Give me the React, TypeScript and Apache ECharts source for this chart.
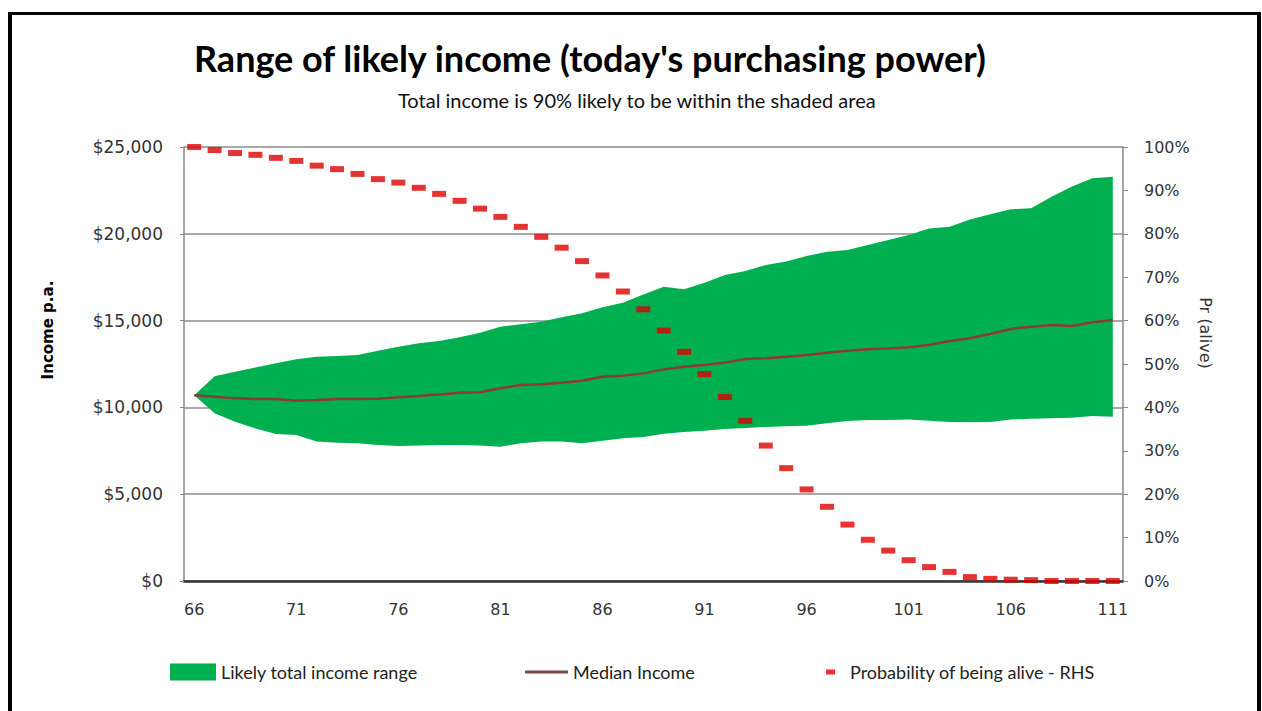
import React, { useEffect, useRef } from "react";
import * as echarts from "echarts";

const ages = [
  "66", "67", "68", "69", "70", "71", "72", "73", "74", "75", "76", "77", "78", "79", "80", "81",
  "82", "83", "84", "85", "86", "87", "88", "89", "90", "91", "92", "93", "94", "95", "96", "97",
  "98", "99", "100", "101", "102", "103", "104", "105", "106", "107", "108", "109", "110", "111",
];

const upperIncome = [
  10700, 11800, 12060, 12300, 12540, 12770, 12920, 12960, 13020, 13270, 13500, 13690, 13820, 14040, 14300, 14650,
  14790, 14940, 15190, 15420, 15770, 16030, 16500, 16950, 16800, 17180, 17630, 17860, 18200, 18400, 18720, 18970,
  19070, 19350, 19640, 19930, 20300, 20410, 20830, 21120, 21410, 21470, 22140, 22720, 23200, 23290,
];

const lowerIncome = [
  10700, 9660, 9180, 8790, 8470, 8410, 8030, 7970, 7930, 7830, 7780, 7800, 7830, 7830, 7800, 7740,
  7930, 8030, 8030, 7930, 8080, 8220, 8300, 8480, 8580, 8660, 8750, 8820, 8870, 8920, 8950, 9080,
  9220, 9270, 9270, 9310, 9230, 9160, 9140, 9160, 9310, 9350, 9370, 9410, 9500, 9460,
];

const medianIncome = [
  10700, 10620, 10520, 10480, 10480, 10390, 10430, 10480, 10480, 10500, 10580, 10660, 10750, 10850, 10870, 11100,
  11290, 11330, 11420, 11540, 11770, 11830, 11960, 12190, 12340, 12440, 12580, 12790, 12830, 12920, 13020, 13150,
  13270, 13350, 13400, 13460, 13590, 13820, 13980, 14230, 14520, 14650, 14750, 14690, 14900, 15030,
];

const probAlive = [
  100, 99.3, 98.6, 98.2, 97.5, 96.8, 95.7, 94.9, 93.8, 92.6, 91.8, 90.6, 89.2, 87.6, 85.8, 83.9,
  81.6, 79.3, 76.8, 73.7, 70.4, 66.7, 62.6, 57.7, 52.8, 47.7, 42.4, 36.9, 31.2, 26.0, 21.1, 17.1,
  13.0, 9.5, 7.0, 4.8, 3.2, 2.1, 0.9, 0.5, 0.3, 0.2, 0, 0, 0, 0,
];

const TITLE = "Range of likely income (today's purchasing power)";
const SUBTITLE = "Total income is 90% likely to be within the shaded area";
const LEFT_NAME = "Income p.a.";
const RIGHT_NAME = "Pr (alive)";
const S_RANGE = "Likely total income range";
const S_MEDIAN = "Median Income";
const S_ALIVE = "Probability of being alive - RHS";

export default function App() {
  const ref = useRef<HTMLDivElement>(null);

  useEffect(() => {
    if (!ref.current) return;
    const chart = echarts.init(ref.current, null, { renderer: "svg" });
    const bandWidth = upperIncome.map((u, i) => u - lowerIncome[i]);
    const axisFont = { fontFamily: "DejaVu Sans", fontSize: 16, color: "#333" };
    const legendText = { fontFamily: "Lato", fontSize: 18, color: "#222" };

    chart.setOption({
      animation: false,
      backgroundColor: "#fff",
      title: [
        {
          text: TITLE,
          left: 189,
          top: 35,
          textStyle: { fontFamily: "Lato", fontWeight: "bold", fontSize: 36, color: "#000" },
        },
        {
          text: SUBTITLE,
          left: 393,
          top: 85,
          textStyle: { fontFamily: "Lato", fontWeight: "normal", fontSize: 20, color: "#111" },
        },
      ],
      graphic: [
        {
          type: "text",
          x: 48,
          y: 330,
          rotation: Math.PI / 2,
          style: {
            text: LEFT_NAME,
            fontFamily: "DejaVu Sans",
            fontWeight: "bold",
            fontSize: 15,
            fill: "#000",
            align: "center",
            verticalAlign: "middle",
          },
        },
        {
          type: "text",
          x: 1205,
          y: 333,
          rotation: -Math.PI / 2,
          style: {
            text: RIGHT_NAME,
            fontFamily: "DejaVu Sans",
            fontSize: 16,
            fill: "#333",
            align: "center",
            verticalAlign: "middle",
          },
        },
      ],
      legend: [
        {
          data: [{ name: S_RANGE, icon: "rect" }],
          left: 170,
          top: 663,
          padding: 0,
          itemWidth: 46,
          itemHeight: 17,
          textStyle: legendText,
          selectedMode: false,
        },
        {
          data: [{ name: S_MEDIAN, icon: "rect" }],
          left: 525,
          top: 663,
          padding: 0,
          itemWidth: 43,
          itemHeight: 3,
          textStyle: legendText,
          selectedMode: false,
        },
        {
          data: [{ name: S_ALIVE, icon: "rect" }],
          left: 826,
          top: 663,
          padding: 0,
          itemWidth: 9,
          itemHeight: 5,
          textStyle: { ...legendText, padding: [0, 0, 0, 10] },
          selectedMode: false,
        },
      ],
      grid: { left: 184, right: 139, top: 147, bottom: 130 },
      xAxis: {
        type: "category",
        data: ages,
        boundaryGap: true,
        axisLine: { lineStyle: { color: "#333", width: 2.5 } },
        axisTick: { show: false },
        axisLabel: { ...axisFont, interval: 4, margin: 20 },
        splitLine: { show: false },
      },
      yAxis: [
        {
          type: "value",
          min: 0,
          max: 25000,
          interval: 5000,
          axisLine: { show: true, lineStyle: { color: "#888", width: 1.5 } },
          axisTick: { show: true, length: 4, lineStyle: { color: "#888" } },
          axisLabel: {
            ...axisFont,
            fontSize: 17,
            margin: 21,
            formatter: (v: number) => "$" + v.toLocaleString("en-US"),
          },
          splitLine: { show: true, lineStyle: { color: "#8c8c8c", width: 1.5 } },
        },
        {
          type: "value",
          min: 0,
          max: 100,
          interval: 10,
          position: "right",
          axisLine: { show: true, lineStyle: { color: "#888", width: 1.5 } },
          axisTick: { show: true, length: 5, lineStyle: { color: "#888" } },
          axisLabel: { ...axisFont, margin: 21, formatter: (v: number) => v + "%" },
          splitLine: { show: false },
        },
      ],
      series: [
        {
          name: "lower",
          type: "line",
          stack: "band",
          data: lowerIncome,
          showSymbol: false,
          symbol: "none",
          lineStyle: { width: 0, opacity: 0 },
          silent: true,
          z: 1,
        },
        {
          name: S_RANGE,
          type: "line",
          stack: "band",
          data: bandWidth,
          showSymbol: false,
          symbol: "none",
          lineStyle: { width: 0, opacity: 0 },
          itemStyle: { color: "#00b050" },
          areaStyle: { color: "#00b050", opacity: 1 },
          z: 2,
        },
        {
          name: S_MEDIAN,
          type: "line",
          data: medianIncome,
          showSymbol: false,
          symbol: "none",
          lineStyle: { color: "#8b3a36", width: 2.5 },
          itemStyle: { color: "#7a4a4a" },
          z: 3,
        },
        {
          name: S_ALIVE,
          type: "scatter",
          yAxisIndex: 1,
          data: probAlive,
          symbol: "rect",
          symbolSize: [14, 6],
          itemStyle: { color: "#dd0000" },
          clip: false,
          z: 4,
        },
      ],
    });

    return () => chart.dispose();
  }, []);

  return (
    <div style={{ position: "fixed", left: 0, top: 0, width: 1262, height: 711, background: "#fff" }}>
      <div ref={ref} style={{ position: "absolute", left: 0, top: 0, width: 1262, height: 711 }} />
      <div
        style={{
          position: "absolute",
          left: 8,
          top: 12,
          width: 1245,
          height: 720,
          borderTop: "3px solid #000",
          borderLeft: "4px solid #000",
          borderRight: "4px solid #000",
          pointerEvents: "none",
        }}
      />
    </div>
  );
}
